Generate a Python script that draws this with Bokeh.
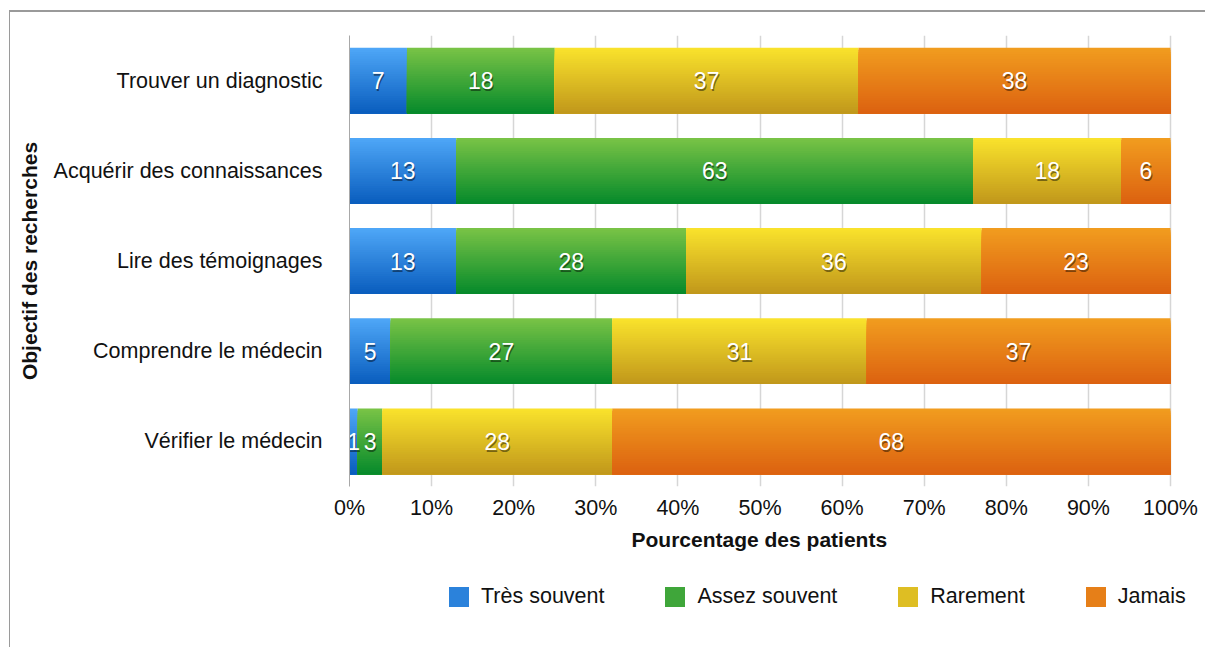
import numpy as np
from bokeh.plotting import figure
from bokeh.layouts import column
from bokeh.models import (ColumnDataSource, FixedTicker, PrintfTickFormatter, Legend,
                          LegendItem, Range1d, Title)
from bokeh.core.properties import value
from bokeh.embed import file_html
from bokeh.resources import INLINE

# ---------------- data ----------------
categories = ["Trouver un diagnostic", "Acquérir des connaissances", "Lire des témoignages",
              "Comprendre le médecin", "Vérifier le médecin"]
series_names = ["Très souvent", "Assez souvent", "Rarement", "Jamais"]
tres_souvent = [7, 13, 13, 5, 1]
assez_souvent = [18, 63, 28, 27, 3]
rarement = [37, 18, 36, 31, 28]
jamais = [38, 6, 23, 37, 68]
x_ticks = [0, 10, 20, 30, 40, 50, 60, 70, 80, 90, 100]
x_title = "Pourcentage des patients"
y_title = "Objectif des recherches"

series_values = [tres_souvent, assez_souvent, rarement, jamais]

# ---------------- style ----------------
FONT = "Liberation Sans"
colors_top = ["#4EA6F7", "#78C346", "#F9E22C", "#F19C1F"]
colors_bottom = ["#0A5EBE", "#078A2B", "#C1981B", "#DC6210"]
colors_mid = ["#2B82DB", "#3FA63A", "#DEBE23", "#E67F18"]
BAR_H = 0.73
N_STRIPS = 30


def hex2rgb(h):
    h = h.lstrip("#")
    return np.array([int(h[i:i + 2], 16) for i in (0, 2, 4)], dtype=float)


def rgb2hex(c):
    return "#%02x%02x%02x" % tuple(int(round(v)) for v in c)


n = len(categories)
ypos = [n - 1 - i for i in range(n)]

W = 1195
# the plotting frame runs a bit past the 100 % line so the legend below is not clipped
FRAME_PX = 1192 - 349
X_END = 100.0 * FRAME_PX / 821.0

p = figure(width=W, height=558, output_backend="svg", toolbar_location=None,
           x_range=Range1d(0, X_END), y_range=Range1d(-0.5, n - 0.5),
           min_border_left=339, min_border_right=W - 339 - FRAME_PX, min_border_top=23,
           min_border_bottom=84)
p.outline_line_color = None
p.background_fill_color = "white"
p.border_fill_color = "white"

# grid
p.ygrid.grid_line_color = None
p.xgrid.grid_line_color = "#d6d6d6"
p.xgrid.grid_line_width = 1.5
p.xgrid.ticker = FixedTicker(ticks=x_ticks)

# x axis
p.xaxis.ticker = FixedTicker(ticks=x_ticks)
p.xaxis.formatter = PrintfTickFormatter(format="%d%%")
p.xaxis.axis_line_color = None
p.xaxis.major_tick_line_color = None
p.xaxis.minor_tick_line_color = None
p.xaxis.major_label_text_font = FONT
p.xaxis.major_label_text_font_size = "21.5px"
p.xaxis.major_label_text_color = "#111111"
p.xaxis.major_label_standoff = 3

# x axis title, centred under the 0-100 % span
xt = Title(text=x_title, align="left", offset=282, standoff=6,
           text_font=FONT, text_font_size="21px", text_font_style="bold", text_color="#111111")
p.add_layout(xt, "below")

# y axis
p.yaxis.ticker = FixedTicker(ticks=ypos)
p.yaxis.major_label_overrides = {ypos[i]: categories[i] for i in range(n)}
p.yaxis.axis_line_color = "#a8a8a8"
p.yaxis.axis_line_width = 1
p.yaxis.major_tick_line_color = None
p.yaxis.minor_tick_line_color = None
p.yaxis.major_label_text_font = FONT
p.yaxis.major_label_text_font_size = "21.5px"
p.yaxis.major_label_text_color = "#111111"
p.yaxis.major_label_standoff = 21
p.yaxis.axis_label = y_title
p.yaxis.axis_label_text_font = FONT
p.yaxis.axis_label_text_font_size = "21px"
p.yaxis.axis_label_text_font_style = "bold"
p.yaxis.axis_label_text_color = "#111111"
p.yaxis.axis_label_standoff = 10

# bars with vertical gradient: nested layers, each covering from its top down to bar bottom
lefts_all = np.zeros(n)
label_x, label_y, label_t = [], [], []
for s, vals in enumerate(series_values):
    vals = np.array(vals, dtype=float)
    left = lefts_all.copy()
    right = left + vals
    ct, cb = hex2rgb(colors_top[s]), hex2rgb(colors_bottom[s])
    L, R, Y, H, C = [], [], [], [], []
    for i in range(n):
        ybot = ypos[i] - BAR_H / 2
        for k in range(N_STRIPS):
            t = k / (N_STRIPS - 1)
            ytop = ypos[i] + BAR_H / 2 - k * BAR_H / N_STRIPS
            L.append(left[i])
            R.append(right[i])
            Y.append((ytop + ybot) / 2)
            H.append(ytop - ybot)
            C.append(rgb2hex(ct * (1 - t) + cb * t))
    src = ColumnDataSource(dict(left=L, right=R, y=Y, h=H, color=C))
    p.hbar(y="y", left="left", right="right", height="h", source=src,
           fill_color="color", line_color=None)
    for i in range(n):
        label_x.append(left[i] + vals[i] / 2)
        label_y.append(ypos[i])
        label_t.append("%d" % vals[i])
    lefts_all = right

lab_src = ColumnDataSource(dict(x=label_x, y=label_y, t=label_t))
p.text(x="x", y="y", text="t", source=lab_src, text_align="center", text_baseline="middle",
       text_font=value(FONT), text_font_size="23px", text_color="#000000", text_alpha=0.45,
       x_offset=1, y_offset=2)
p.text(x="x", y="y", text="t", source=lab_src, text_align="center", text_baseline="middle",
       text_font=value(FONT), text_font_size="23px", text_color="#ffffff")

# legend in its own strip below the chart (its frame is aligned with the chart's frame)
pl = figure(width=W, height=77, output_backend="svg", toolbar_location=None,
            x_range=Range1d(0, 100), y_range=Range1d(0, 77),
            x_axis_type=None, y_axis_type=None,
            min_border_left=0, min_border_right=0, min_border_top=0, min_border_bottom=0)
pl.outline_line_color = None
pl.xgrid.grid_line_color = None
pl.ygrid.grid_line_color = None
pl.border_fill_color = "white"
items = []
for s, name in enumerate(series_names):
    # swatch renderer: a single mark placed outside the visible range
    r = pl.rect(x=[-500], y=[-500], width=1, height=1, fill_color=colors_mid[s], line_color=None)
    items.append(LegendItem(label=name, renderers=[r]))
legend = Legend(items=items, orientation="horizontal", location=(97, 38),
                glyph_width=25, glyph_height=25, label_standoff=10, spacing=58,
                padding=0, margin=0, border_line_color=None, background_fill_alpha=0,
                label_text_font=FONT, label_text_font_size="21.5px", label_text_color="#111111",
                label_height=20)
pl.add_layout(legend, "center")

layout = column(p, pl, spacing=0,
                styles={"margin-left": "9px", "margin-top": "10px",
                        "border-left": "1px solid #9a9a9a", "border-top": "2px solid #9a9a9a"})

open("out.html", "w").write(file_html(layout, INLINE))
